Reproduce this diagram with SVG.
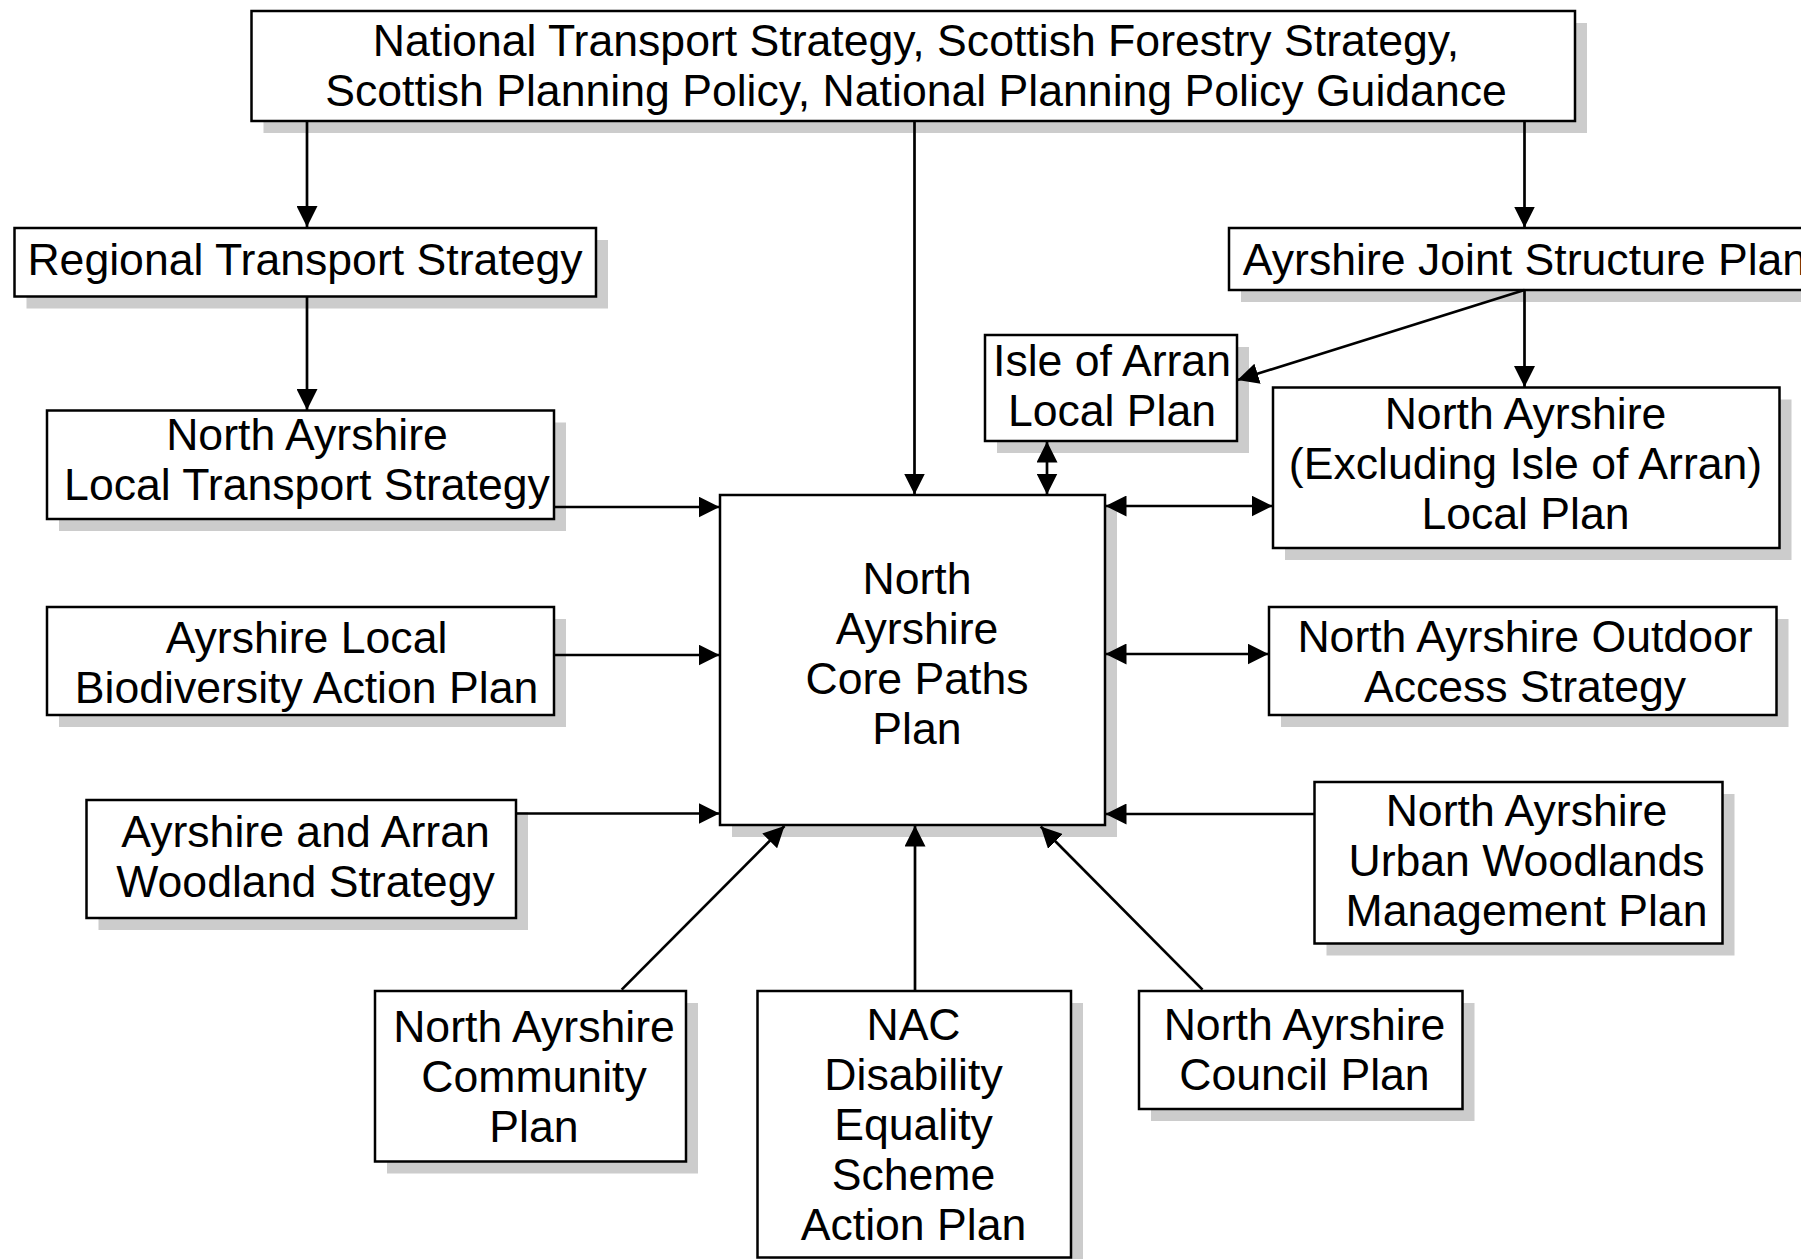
<svg xmlns="http://www.w3.org/2000/svg" width="1801" height="1259" viewBox="0 0 1801 1259">
<style>
.box{fill:#ffffff;stroke:#000000;stroke-width:2.5}
.sh{fill:#cccccc;stroke:none}
.t{font-family:"Liberation Sans",Arial,Helvetica,sans-serif;font-size:44.6px;fill:#000000;text-anchor:middle}
.c{fill:none;stroke:#000000;stroke-width:2.7}
.a{marker-end:url(#ah)}
.d{marker-start:url(#ah);marker-end:url(#ah)}
</style>
<defs>
<marker id="ah" markerUnits="userSpaceOnUse" markerWidth="21" markerHeight="21" viewBox="0 0 21 21" refX="21" refY="10.5" orient="auto-start-reverse">
<path d="M0,0 L21,10.5 L0,21 Z" fill="#000000"/>
</marker>
</defs>
<rect width="1801" height="1259" fill="#ffffff"/>

<g id="node-national">
<rect class="sh" x="263.5" y="23" width="1323.5" height="110"/>
<rect class="box" x="251.5" y="11" width="1323.5" height="110"/>
<text class="t" x="916" y="56">National Transport Strategy, Scottish Forestry Strategy,</text>
<text class="t" x="916" y="106">Scottish Planning Policy, National Planning Policy Guidance</text>
</g>

<g id="node-regional">
<rect class="sh" x="26.5" y="240" width="581.5" height="68.5"/>
<rect class="box" x="14.5" y="228" width="581.5" height="68.5"/>
<text class="t" x="305" y="275">Regional Transport Strategy</text>
</g>

<g id="node-ajsp">
<rect class="sh" x="1241" y="240" width="600" height="62"/>
<rect class="box" x="1229" y="228" width="600" height="62"/>
<text class="t" x="1525" y="274.5">Ayrshire Joint Structure Plan</text>
</g>

<g id="node-isle">
<rect class="sh" x="997" y="347" width="252" height="106"/>
<rect class="box" x="985" y="335" width="252" height="106"/>
<text class="t" x="1112" y="376">Isle of Arran</text>
<text class="t" x="1112" y="426">Local Plan</text>
</g>

<g id="node-naexcl">
<rect class="sh" x="1285" y="399.5" width="506.5" height="160.5"/>
<rect class="box" x="1273" y="387.5" width="506.5" height="160.5"/>
<text class="t" x="1525.5" y="429">North Ayrshire</text>
<text class="t" x="1525.5" y="479">(Excluding Isle of Arran)</text>
<text class="t" x="1525.5" y="529">Local Plan</text>
</g>

<g id="node-nalts">
<rect class="sh" x="59" y="422.5" width="507" height="108.5"/>
<rect class="box" x="47" y="410.5" width="507" height="108.5"/>
<text class="t" x="307" y="450">North Ayrshire</text>
<text class="t" x="307" y="500">Local Transport Strategy</text>
</g>

<g id="node-core">
<rect class="sh" x="732" y="507" width="385" height="330"/>
<rect class="box" x="720" y="495" width="385" height="330"/>
<text class="t" x="917" y="594">North</text>
<text class="t" x="917" y="644">Ayrshire</text>
<text class="t" x="917" y="694">Core Paths</text>
<text class="t" x="917" y="744">Plan</text>
</g>

<g id="node-ayrlocal">
<rect class="sh" x="59" y="619" width="507" height="108"/>
<rect class="box" x="47" y="607" width="507" height="108"/>
<text class="t" x="306.5" y="653">Ayrshire Local</text>
<text class="t" x="306.5" y="703">Biodiversity Action Plan</text>
</g>

<g id="node-outdoor">
<rect class="sh" x="1281" y="619" width="507.5" height="108"/>
<rect class="box" x="1269" y="607" width="507.5" height="108"/>
<text class="t" x="1525" y="652">North Ayrshire Outdoor</text>
<text class="t" x="1525" y="702">Access Strategy</text>
</g>

<g id="node-woodland">
<rect class="sh" x="98.5" y="812" width="429.5" height="118"/>
<rect class="box" x="86.5" y="800" width="429.5" height="118"/>
<text class="t" x="305.5" y="847">Ayrshire and Arran</text>
<text class="t" x="305.5" y="897">Woodland Strategy</text>
</g>

<g id="node-urban">
<rect class="sh" x="1326.5" y="794" width="408" height="161.5"/>
<rect class="box" x="1314.5" y="782" width="408" height="161.5"/>
<text class="t" x="1526.5" y="826">North Ayrshire</text>
<text class="t" x="1526.5" y="876">Urban Woodlands</text>
<text class="t" x="1526.5" y="926">Management Plan</text>
</g>

<g id="node-community">
<rect class="sh" x="387" y="1003" width="311" height="170.5"/>
<rect class="box" x="375" y="991" width="311" height="170.5"/>
<text class="t" x="534" y="1042">North Ayrshire</text>
<text class="t" x="534" y="1092">Community</text>
<text class="t" x="534" y="1142">Plan</text>
</g>

<g id="node-nac">
<rect class="sh" x="769.5" y="1003" width="313.5" height="266.5"/>
<rect class="box" x="757.5" y="991" width="313.5" height="266.5"/>
<text class="t" x="913.5" y="1040">NAC</text>
<text class="t" x="913.5" y="1090">Disability</text>
<text class="t" x="913.5" y="1140">Equality</text>
<text class="t" x="913.5" y="1190">Scheme</text>
<text class="t" x="913.5" y="1240">Action Plan</text>
</g>

<g id="node-council">
<rect class="sh" x="1151" y="1003" width="323.5" height="118"/>
<rect class="box" x="1139" y="991" width="323.5" height="118"/>
<text class="t" x="1304.5" y="1040">North Ayrshire</text>
<text class="t" x="1304.5" y="1090">Council Plan</text>
</g>

<g id="connectors">
<path class="c a" d="M307,121 V227"/>
<path class="c a" d="M307,296.5 V410"/>
<path class="c a" d="M914.5,121 V494.5"/>
<path class="c a" d="M1524.5,121 V227.5"/>
<path class="c a" d="M1524.5,290 L1237.5,380"/>
<path class="c a" d="M1524.5,290 V387"/>
<path class="c d" d="M1047,441.5 V494.5"/>
<path class="c d" d="M1105.5,506 H1272.5"/>
<path class="c a" d="M554,507 H719.5"/>
<path class="c a" d="M554,655 H719.5"/>
<path class="c d" d="M1105.5,654 H1268.5"/>
<path class="c a" d="M516,813.5 H719.5"/>
<path class="c a" d="M1314.5,814 H1105.5"/>
<path class="c a" d="M621.7,989.6 L784.5,826"/>
<path class="c a" d="M915,991 V825.5"/>
<path class="c a" d="M1202.5,989.6 L1040.7,826.5"/>
</g>
</svg>
